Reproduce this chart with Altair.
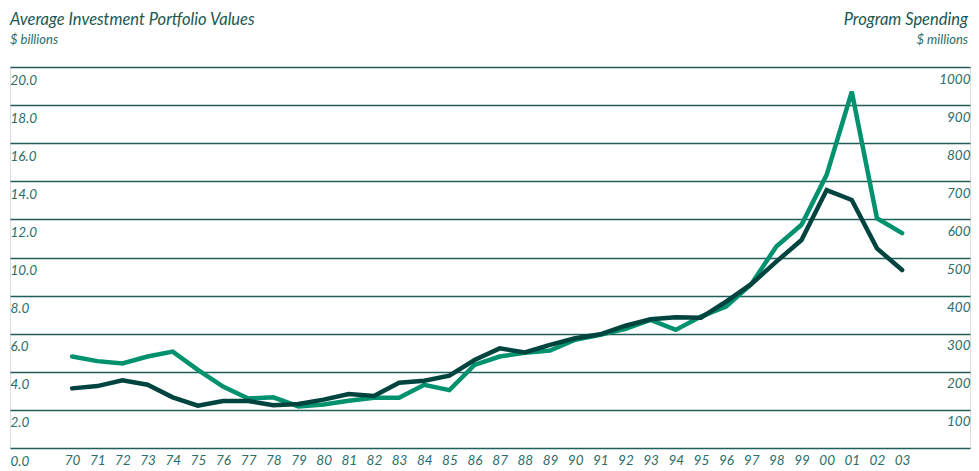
import altair as alt
import pandas as pd

years = list(range(1970, 2004))

# Average Investment Portfolio Values ($ billions) - dark line
portfolio = [3.13, 3.25, 3.55, 3.32, 2.66, 2.22, 2.47, 2.47, 2.24, 2.31,
             2.54, 2.83, 2.73, 3.43, 3.53, 3.80, 4.62, 5.23, 5.02, 5.41,
             5.76, 5.97, 6.42, 6.76, 6.86, 6.84, 7.68, 8.60, 9.78, 10.92,
             13.54, 13.02, 10.48, 9.34]

# Program Spending ($ millions) - green line
spending = [240, 228, 222, 240, 253, 205, 161, 130, 133, 109,
            114, 124, 132, 132, 166, 152, 218, 240, 250, 256,
            284, 297, 313, 336, 310, 345, 371, 430, 529, 586,
            717, 935, 603, 564]

left_ticks = [0, 2, 4, 6, 8, 10, 12, 14, 16, 18, 20]
right_ticks = [100, 200, 300, 400, 500, 600, 700, 800, 900, 1000]

df = pd.DataFrame({"year": years, "portfolio": portfolio, "spending": spending})

FONT = "Lato"
DARK = "#00443f"
GREEN = "#00916e"
TEXT = "#2b6d69"
TITLE = "#1b5753"
GRID = "#1f5e5a"
LSIZE = 13.5

xenc = alt.X(
    "year:Q",
    scale=alt.Scale(domain=[1967.53, 2005.7], nice=False, zero=False),
    axis=alt.Axis(
        values=years, labelExpr="slice(toString(datum.value), 2)",
        title=None, grid=False, ticks=False, domain=False,
        labelFont=FONT, labelFontSize=LSIZE, labelFontStyle="italic",
        labelColor=TEXT, labelPadding=5, labelFlush=False,
    ),
)

green = alt.Chart(df).mark_line(color=GREEN, strokeWidth=4.5, strokeCap="round", strokeJoin="miter").encode(
    x=xenc,
    y=alt.Y(
        "spending:Q",
        scale=alt.Scale(domain=[0, 1000], nice=False),
        axis=alt.Axis(
            orient="right", values=right_ticks, format="d", title=None,
            grid=False, ticks=False, domain=False, labelAlign="right",
            labelPadding=0, labelBaseline="alphabetic", labelOffset=16,
            labelFont=FONT, labelFontSize=LSIZE, labelFontStyle="italic",
            labelColor=TEXT,
        ),
    ),
)

dark = alt.Chart(df).mark_line(color=DARK, strokeWidth=4.5, strokeCap="round", strokeJoin="miter").encode(
    x=xenc,
    y=alt.Y(
        "portfolio:Q",
        scale=alt.Scale(domain=[0, 20], nice=False),
        axis=alt.Axis(
            orient="left", values=left_ticks, format=".1f", title=None,
            grid=True, gridColor=GRID, gridWidth=1.5, gridOpacity=1,
            ticks=False, domain=False, labelAlign="left",
            labelPadding=0, labelBaseline="alphabetic", labelOffset=17,
            labelFont=FONT, labelFontSize=LSIZE, labelFontStyle="italic",
            labelColor=TEXT,
        ),
    ),
)

titles = pd.DataFrame({"t": [0]})
left_title = alt.Chart(titles).mark_text(
    text="Average Investment Portfolio Values", align="left", baseline="alphabetic",
    font=FONT, fontSize=16.5, fontStyle="italic", color=TITLE,
).encode(x=alt.value(0), y=alt.value(-42))
left_sub = alt.Chart(titles).mark_text(
    text="$ billions", align="left", baseline="alphabetic",
    font=FONT, fontSize=13, fontStyle="italic", color=TEXT,
).encode(x=alt.value(0), y=alt.value(-23))
right_title = alt.Chart(titles).mark_text(
    text="Program Spending", align="right", baseline="alphabetic",
    font=FONT, fontSize=16.5, fontStyle="italic", color=TITLE,
).encode(x=alt.value(958), y=alt.value(-42))
right_sub = alt.Chart(titles).mark_text(
    text="$ millions", align="right", baseline="alphabetic",
    font=FONT, fontSize=13, fontStyle="italic", color=TEXT,
).encode(x=alt.value(958), y=alt.value(-23))

chart = alt.layer(green, dark, left_title, left_sub, right_title, right_sub).resolve_scale(
    y="independent"
).properties(
    width=960, height=381,
    autosize=alt.AutoSizeParams(type="none"),
    padding={"left": 2, "top": 59, "right": 1, "bottom": 23},
).configure_view(stroke=None).configure(background="white")

chart.save("out.html", embed_options={"renderer": "svg", "actions": False})
